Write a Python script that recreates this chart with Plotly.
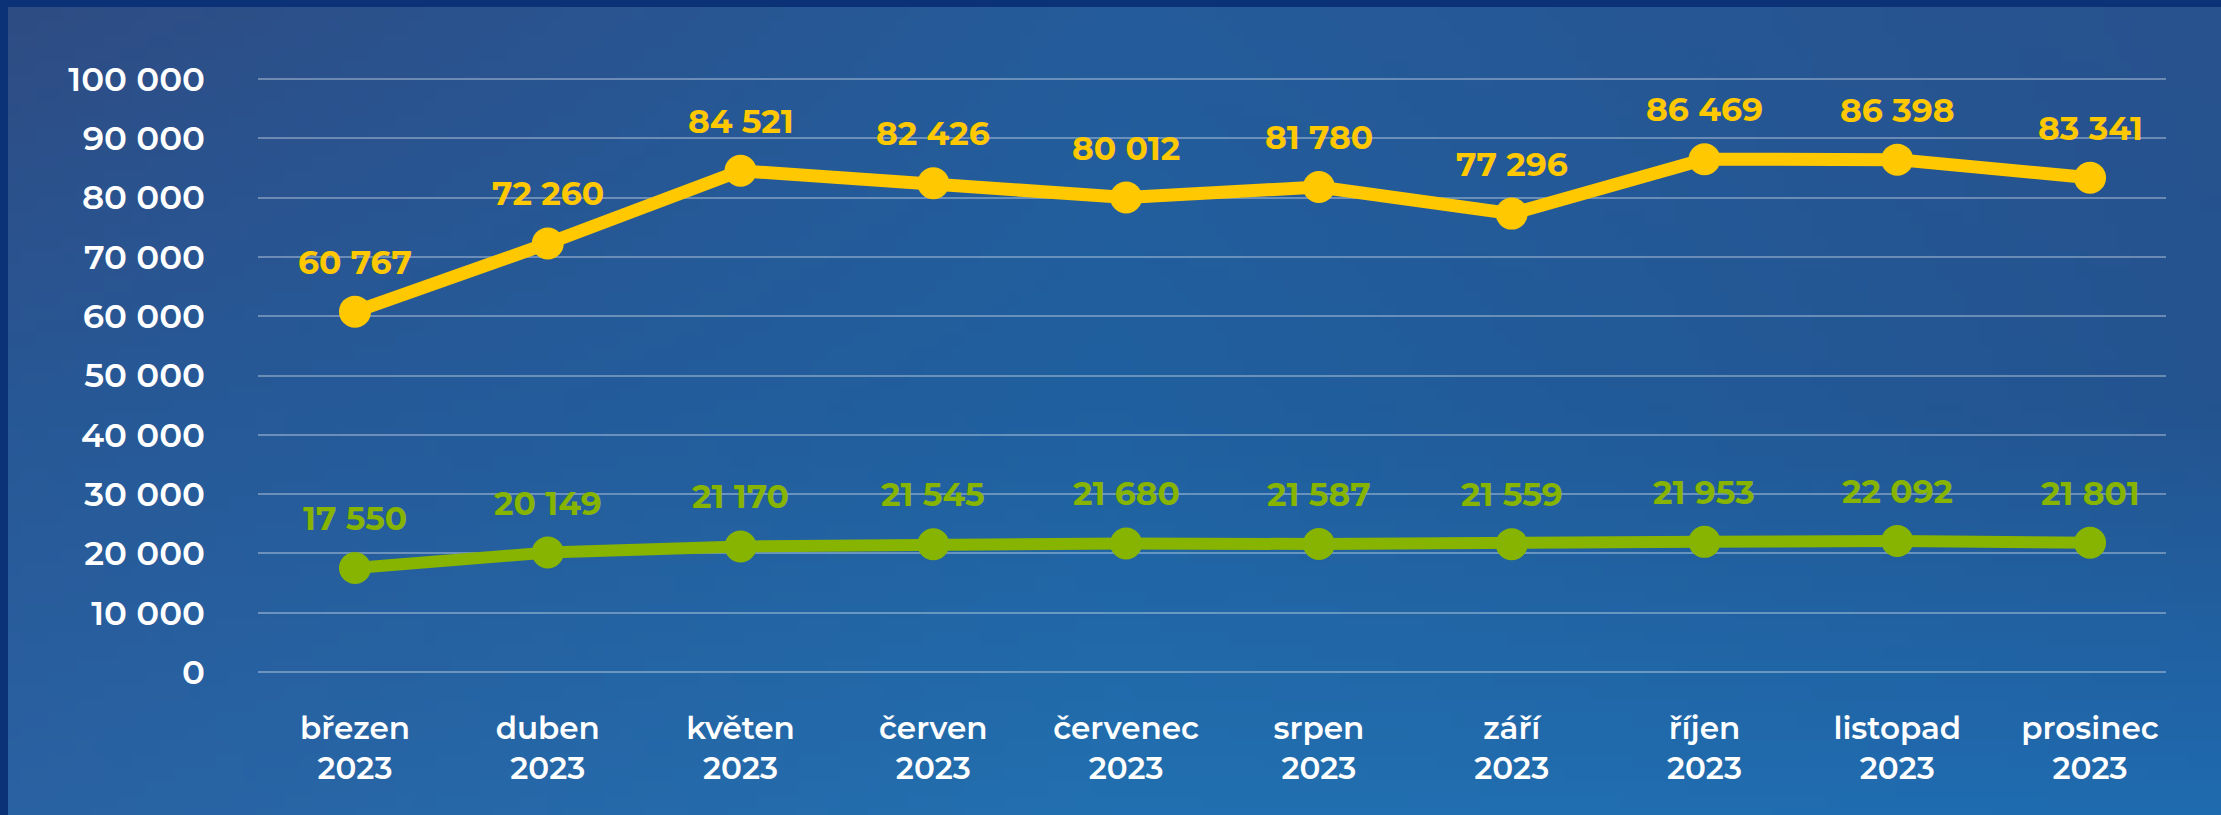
import base64
import struct
import zlib

import numpy as np
import plotly.graph_objects as go

# ---------------- data ----------------
months = ["březen", "duben", "květen", "červen", "červenec",
          "srpen", "září", "říjen", "listopad", "prosinec"]
year = "2023"
yellow_values = [60767, 72260, 84521, 82426, 80012, 81780, 77296, 86469, 86398, 83341]
green_values = [17550, 20149, 21170, 21545, 21680, 21587, 21559, 21953, 22092, 21801]
y_ticks = [0, 10000, 20000, 30000, 40000, 50000, 60000, 70000, 80000, 90000, 100000]

# ---------------- layout constants ----------------
W, H = 2221, 815
ML, MR, MT, MB = 258, 55, 76, 140
PW, PH = W - ML - MR, H - MT - MB

YELLOW = "#FFC800"
GREEN = "#86B400"
FONT = "Montserrat, Open Sans, Inter, sans-serif"


def fmt(v):
    return f"{v:,}".replace(",", " ")


# ---------------- gradient background as PNG ----------------
ctrl = np.array([
    [[47, 76, 132], [37, 92, 155], [40, 82, 142]],
    [[40, 88, 150], [32, 96, 160], [36, 84, 144]],
    [[42, 98, 163], [34, 112, 176], [31, 107, 176]],
], dtype=float)
gw, gh = 160, 60
ys = np.linspace(0, 2, gh)
xs = np.linspace(0, 2, gw)
img = np.zeros((gh, gw, 3))
for i, yy in enumerate(ys):
    y0 = min(int(yy), 1)
    ty = yy - y0
    row = ctrl[y0] * (1 - ty) + ctrl[y0 + 1] * ty
    for j, xx in enumerate(xs):
        x0 = min(int(xx), 1)
        tx = xx - x0
        img[i, j] = row[x0] * (1 - tx) + row[x0 + 1] * tx
img = np.clip(img, 0, 255).astype(np.uint8)


def png_uri(arr):
    h, w, _ = arr.shape
    raw = b"".join(b"\x00" + arr[r].tobytes() for r in range(h))

    def chunk(tag, data):
        c = struct.pack(">I", len(data)) + tag + data
        return c + struct.pack(">I", zlib.crc32(tag + data) & 0xFFFFFFFF)

    png = b"\x89PNG\r\n\x1a\n"
    png += chunk(b"IHDR", struct.pack(">IIBBBBB", w, h, 8, 2, 0, 0, 0))
    png += chunk(b"IDAT", zlib.compress(raw, 9))
    png += chunk(b"IEND", b"")
    return "data:image/png;base64," + base64.b64encode(png).decode()


def px_x(px):
    return (px - ML) / PW


def px_y(py):
    return 1 - (py - MT) / PH


# ---------------- figure ----------------
x_idx = list(range(len(months)))
fig = go.Figure()

fig.add_trace(go.Scatter(
    x=x_idx, y=green_values, mode="lines+markers",
    line=dict(color=GREEN, width=12),
    marker=dict(color=GREEN, size=32),
    hoverinfo="skip", showlegend=False,
))
fig.add_trace(go.Scatter(
    x=x_idx, y=yellow_values, mode="lines+markers",
    line=dict(color=YELLOW, width=13),
    marker=dict(color=YELLOW, size=32),
    hoverinfo="skip", showlegend=False,
))

annotations = []
for series, color in ((yellow_values, YELLOW), (green_values, GREEN)):
    for i, v in enumerate(series):
        annotations.append(dict(
            x=i, y=v, xref="x", yref="y", text=fmt(v), showarrow=False,
            yshift=50, yanchor="middle", xanchor="center",
            font=dict(family=FONT, size=33, color=color, weight=700),
        ))

fig.update_layout(
    width=W, height=H,
    margin=dict(l=ML, r=MR, t=MT, b=MB, pad=0),
    paper_bgcolor="#1f5c9c",
    plot_bgcolor="rgba(0,0,0,0)",
    annotations=annotations,
    images=[dict(
        source=png_uri(img), xref="paper", yref="paper",
        x=px_x(0), y=px_y(0), sizex=W / PW, sizey=H / PH,
        xanchor="left", yanchor="top", sizing="stretch", layer="below",
    )],
    shapes=[
        dict(type="rect", xref="paper", yref="paper", layer="below",
             x0=px_x(0), x1=px_x(W), y0=px_y(7), y1=px_y(0),
             fillcolor="#0B3277", line=dict(width=0)),
        dict(type="rect", xref="paper", yref="paper", layer="below",
             x0=px_x(0), x1=px_x(8), y0=px_y(H), y1=px_y(0),
             fillcolor="#0B3277", line=dict(width=0)),
    ],
    xaxis=dict(
        range=[-0.503, 9.394],
        tickmode="array", tickvals=x_idx,
        ticktext=[f"{m}<br>{year}" for m in months],
        showgrid=False, zeroline=False, showline=False, ticks="",
        ticklabelstandoff=32,
        tickfont=dict(family=FONT, size=31, color="white", weight=600),
        fixedrange=True,
    ),
    yaxis=dict(
        range=[-500, 100500],
        tickmode="array", tickvals=y_ticks,
        ticktext=[fmt(t) for t in y_ticks],
        showgrid=True, gridcolor="rgba(255,255,255,0.32)", gridwidth=2,
        zeroline=False, showline=False, ticks="",
        ticklabelstandoff=52,
        tickfont=dict(family=FONT, size=34, color="white", weight=600),
        fixedrange=True,
    ),
)

fig.write_html(
    "out.html",
    config={"displayModeBar": False},
    post_script=(
        "document.body.style.margin='0';"
        "document.body.style.padding='0';"
        "document.body.style.overflow='hidden';"
        "document.body.style.background='#0B3277';"
    ),
)
